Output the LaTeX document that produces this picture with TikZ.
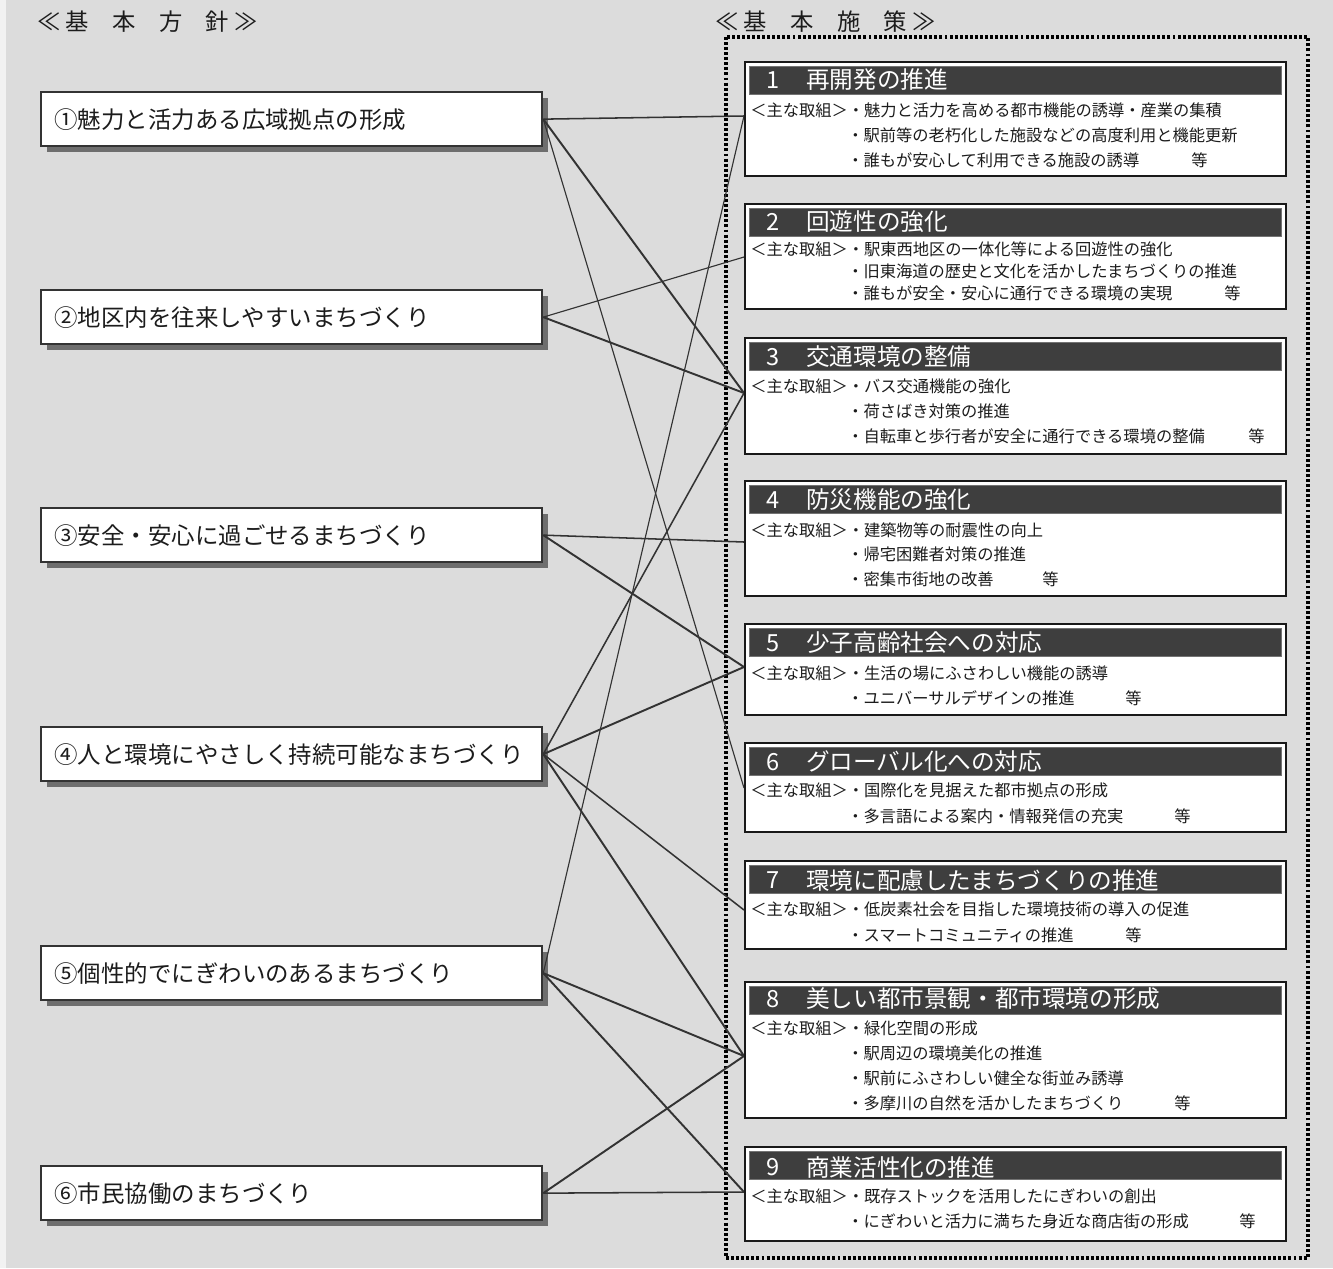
\documentclass[tikz,border=0pt]{standalone}
\usepackage{fontspec}
\setmainfont{Noto Sans CJK JP}
\usetikzlibrary{shadows}
\definecolor{bg}{HTML}{DCDCDC}
\definecolor{ln}{HTML}{333333}
\definecolor{barc}{HTML}{3E3E3E}
\definecolor{shd}{HTML}{6E6E6E}
\definecolor{txt}{HTML}{1C1C1C}
\tikzset{
  lbox/.style={draw=ln, line width=1.7pt, fill=white, anchor=north west,
    minimum width=375.75pt, minimum height=40.5pt, text width=356pt, align=left,
    inner xsep=9pt, text=txt, font=\fontsize{17.6pt}{20pt}\selectfont,
    drop shadow={shadow xshift=4.4pt, shadow yshift=-4.4pt, fill=shd, opacity=1}},
  rbox/.style={draw=black!90, line width=1.4pt, fill=white, anchor=north west,
    minimum width=405.75pt, inner sep=0pt},
  barbox/.style={draw=black!55, line width=0.6pt, fill=barc, anchor=north west,
    minimum width=399pt, minimum height=21pt, inner sep=0pt},
  ttl/.style={text=white, anchor=west, inner sep=0pt, font=\fontsize{17.7pt}{20pt}\selectfont},
  body/.style={text=txt, anchor=west, inner sep=0pt, font=\fontsize{12.2pt}{14pt}\selectfont},
  hdr/.style={text=txt, anchor=west, inner sep=0pt, font=\fontsize{17.5pt}{18pt}\selectfont},
  thinl/.style={draw=ln, line width=0.85pt},
  midl/.style={draw=ln, line width=1.15pt},
  thickl/.style={draw=ln, line width=1.45pt},
  dotbox/.style={draw=black, line width=2.6pt, dash pattern=on 2.2pt off 1.6pt}
}
\begin{document}
\begin{tikzpicture}[x=0.75pt,y=-0.75pt]
\useasboundingbox (0,0) rectangle (1333,1268);
\fill[bg] (0,0) rectangle (1333,1268);
\fill[black!5] (0,0) rectangle (6,1268);

% headers
\node[hdr] (h1) at (37,22) {≪\hspace{4pt}基　本　方　針\hspace{4pt}≫};
\node[hdr] (h2) at (715,22) {≪\hspace{4pt}基　本　施　策\hspace{4pt}≫};

% dotted frame
\draw[dotbox] (726,37) rectangle (1308,1258);

% left boxes
\node[lbox] (L1) at (40,91) {①魅力と活力ある広域拠点の形成};
\node[lbox] (L2) at (40,289) {②地区内を往来しやすいまちづくり};
\node[lbox] (L3) at (40,507) {③安全・安心に過ごせるまちづくり};
\node[lbox] (L4) at (40,726) {④人と環境にやさしく持続可能なまちづくり};
\node[lbox] (L5) at (40,945) {⑤個性的でにぎわいのあるまちづくり};
\node[lbox] (L6) at (40,1165) {⑥市民協働のまちづくり};

% right connection points
\coordinate (P1) at (744,116);
\coordinate (P2) at (744,257);
\coordinate (P3) at (744,393);
\coordinate (P4) at (744,542);
\coordinate (P5) at (744,667);
\coordinate (P6) at (744,788);
\coordinate (P7) at (744,910);
\coordinate (P8) at (744,1056);
\coordinate (P9) at (744,1192);

% connectors
\draw[midl]   (L1.east) -- (P1);
\draw[thickl] (L1.east) -- (P3);
\draw[thinl]  (L1.east) -- (P6);
\draw[thinl]  (L2.east) -- (P2);
\draw[thickl] (L2.east) -- (P3);
\draw[midl]   (L3.east) -- (P4);
\draw[thickl] (L3.east) -- (P5);
\draw[midl]   (L4.east) -- (P3);
\draw[thickl] (L4.east) -- (P5);
\draw[midl]   (L4.east) -- (P7);
\draw[thickl] (L4.east) -- (P8);
\draw[thinl]  (L5.east) -- (P1);
\draw[thickl] (L5.east) -- (P8);
\draw[thickl] (L5.east) -- (P9);
\draw[thickl] (L6.east) -- (P8);
\draw[midl]   (L6.east) -- (P9);

% right boxes
% R1
\node[rbox, minimum height=85.5pt] (R1) at (744,61) {};
\node[barbox] (R1b) at (749,66) {};
\node[ttl] (R1n) at (766,80) {1};
\node[ttl] (R1t) at (806,80) {再開発の推進};
\node[body] (R1a) at (750,110) {＜主な取組＞・魅力と活力を高める都市機能の誘導・産業の集積};
\node[body] (R1c) at (847,135) {・駅前等の老朽化した施設などの高度利用と機能更新};
\node[body] (R1d) at (847,160) {・誰もが安心して利用できる施設の誘導};
\node[body] (R1e) at (1191,160) {等};
% R2
\node[rbox, minimum height=78.75pt] (R2) at (744,203) {};
\node[barbox] (R2b) at (749,208) {};
\node[ttl] (R2n) at (766,222) {2};
\node[ttl] (R2t) at (806,222) {回遊性の強化};
\node[body] (R2a) at (750,249) {＜主な取組＞・駅東西地区の一体化等による回遊性の強化};
\node[body] (R2c) at (847,271) {・旧東海道の歴史と文化を活かしたまちづくりの推進};
\node[body] (R2d) at (847,293) {・誰もが安全・安心に通行できる環境の実現};
\node[body] (R2e) at (1224,293) {等};
% R3
\node[rbox, minimum height=87pt] (R3) at (744,337) {};
\node[barbox] (R3b) at (749,342) {};
\node[ttl] (R3n) at (766,357) {3};
\node[ttl] (R3t) at (806,357) {交通環境の整備};
\node[body] (R3a) at (750,386) {＜主な取組＞・バス交通機能の強化};
\node[body] (R3c) at (847,411) {・荷さばき対策の推進};
\node[body] (R3d) at (847,436) {・自転車と歩行者が安全に通行できる環境の整備};
\node[body] (R3e) at (1248,436) {等};
% R4
\node[rbox, minimum height=86.25pt] (R4) at (744,480) {};
\node[barbox] (R4b) at (749,485) {};
\node[ttl] (R4n) at (766,500) {4};
\node[ttl] (R4t) at (806,500) {防災機能の強化};
\node[body] (R4a) at (750,530) {＜主な取組＞・建築物等の耐震性の向上};
\node[body] (R4c) at (847,554) {・帰宅困難者対策の推進};
\node[body] (R4d) at (847,579) {・密集市街地の改善};
\node[body] (R4e) at (1042,579) {等};
% R5
\node[rbox, minimum height=68.25pt] (R5) at (744,623) {};
\node[barbox] (R5b) at (749,628) {};
\node[ttl] (R5n) at (766,643) {5};
\node[ttl] (R5t) at (806,643) {少子高齢社会への対応};
\node[body] (R5a) at (750,673) {＜主な取組＞・生活の場にふさわしい機能の誘導};
\node[body] (R5c) at (847,698) {・ユニバーサルデザインの推進};
\node[body] (R5e) at (1125,698) {等};
% R6
\node[rbox, minimum height=66.75pt] (R6) at (744,742) {};
\node[barbox] (R6b) at (749,747) {};
\node[ttl] (R6n) at (766,762) {6};
\node[ttl] (R6t) at (806,762) {グローバル化への対応};
\node[body] (R6a) at (750,790) {＜主な取組＞・国際化を見据えた都市拠点の形成};
\node[body] (R6c) at (847,816) {・多言語による案内・情報発信の充実};
\node[body] (R6e) at (1174,816) {等};
% R7
\node[rbox, minimum height=66pt] (R7) at (744,860) {};
\node[barbox] (R7b) at (749,865) {};
\node[ttl] (R7n) at (766,880) {7};
\node[ttl] (R7t) at (806,880) {環境に配慮したまちづくりの推進};
\node[body] (R7a) at (750,909) {＜主な取組＞・低炭素社会を目指した環境技術の導入の促進};
\node[body] (R7c) at (847,935) {・スマートコミュニティの推進};
\node[body] (R7e) at (1125,935) {等};
% R8
\node[rbox, minimum height=102pt] (R8) at (744,981) {};
\node[barbox] (R8b) at (749,986) {};
\node[ttl] (R8n) at (766,999) {8};
\node[ttl] (R8t) at (806,999) {美しい都市景観・都市環境の形成};
\node[body] (R8a) at (750,1028) {＜主な取組＞・緑化空間の形成};
\node[body] (R8c) at (847,1053) {・駅周辺の環境美化の推進};
\node[body] (R8d) at (847,1078) {・駅前にふさわしい健全な街並み誘導};
\node[body] (R8f) at (847,1103) {・多摩川の自然を活かしたまちづくり};
\node[body] (R8e) at (1174,1103) {等};
% R9
\node[rbox, minimum height=70.5pt] (R9) at (744,1146) {};
\node[barbox] (R9b) at (749,1151) {};
\node[ttl] (R9n) at (766,1167) {9};
\node[ttl] (R9t) at (806,1167) {商業活性化の推進};
\node[body] (R9a) at (750,1196) {＜主な取組＞・既存ストックを活用したにぎわいの創出};
\node[body] (R9c) at (847,1221) {・にぎわいと活力に満ちた身近な商店街の形成};
\node[body] (R9e) at (1239,1221) {等};
\end{tikzpicture}
\end{document}
